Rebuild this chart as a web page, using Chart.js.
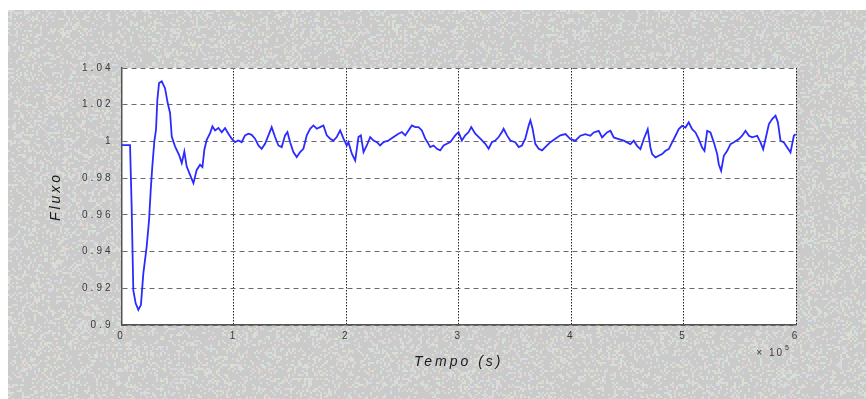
<!DOCTYPE html>
<html>
<head>
<meta charset="utf-8">
<script src="https://cdn.jsdelivr.net/npm/chart.js@4.4.1/dist/chart.umd.min.js"></script>
<style>
  html, body { margin: 0; padding: 0; background: #ffffff; }
  #wrap { position: absolute; left: 8px; top: 10px; width: 858px; height: 389px; }
</style>
</head>
<body>
<div id="wrap"><canvas id="fluxChart" width="858" height="389"></canvas></div>
<script>
// Tempo (x 10^5 s) e fluxo normalizado
var tempo = [
    0, 0.076, 0.090, 0.105, 0.126, 0.150, 0.173, 0.194, 0.224, 0.245,
    0.260, 0.274, 0.292, 0.307, 0.319, 0.334, 0.358, 0.387, 0.411, 0.432,
    0.447, 0.476, 0.512, 0.536, 0.559, 0.580, 0.610, 0.640, 0.669, 0.699,
    0.720, 0.737, 0.758, 0.788, 0.809, 0.832, 0.862, 0.892, 0.921, 0.951,
    0.980, 1.010, 1.040, 1.069, 1.099, 1.129, 1.158, 1.188, 1.218, 1.247,
    1.277, 1.307, 1.336, 1.366, 1.396, 1.425, 1.455, 1.476, 1.500, 1.529,
    1.559, 1.589, 1.618, 1.648, 1.678, 1.707, 1.737, 1.767, 1.796, 1.826,
    1.856, 1.885, 1.915, 1.945, 1.975, 2.004, 2.019, 2.049, 2.079, 2.108,
    2.129, 2.153, 2.182, 2.212, 2.242, 2.271, 2.301, 2.331, 2.375, 2.420,
    2.464, 2.494, 2.524, 2.553, 2.583, 2.613, 2.642, 2.672, 2.702, 2.722,
    2.746, 2.776, 2.806, 2.835, 2.865, 2.895, 2.924, 2.969, 2.998, 3.028,
    3.058, 3.088, 3.111, 3.147, 3.192, 3.236, 3.266, 3.295, 3.325, 3.355,
    3.384, 3.399, 3.429, 3.459, 3.503, 3.533, 3.562, 3.592, 3.622, 3.637,
    3.657, 3.681, 3.711, 3.741, 3.770, 3.815, 3.859, 3.904, 3.949, 3.993,
    4.038, 4.082, 4.127, 4.171, 4.201, 4.245, 4.275, 4.319, 4.349, 4.379,
    4.423, 4.468, 4.497, 4.527, 4.557, 4.586, 4.616, 4.646, 4.681, 4.705,
    4.720, 4.750, 4.779, 4.809, 4.839, 4.868, 4.898, 4.928, 4.957, 4.987,
    5.017, 5.046, 5.076, 5.106, 5.135, 5.165, 5.186, 5.210, 5.239, 5.269,
    5.299, 5.313, 5.334, 5.358, 5.388, 5.417, 5.447, 5.492, 5.521, 5.551,
    5.581, 5.610, 5.655, 5.684, 5.708, 5.729, 5.759, 5.788, 5.818, 5.839,
    5.862, 5.892, 5.922, 5.951, 5.981, 5.996
];
var fluxo = [
    0.998, 0.998, 0.9654, 0.919, 0.9118, 0.9082, 0.911, 0.928, 0.9427, 0.957,
    0.9736, 0.9863, 1.0, 1.0064, 1.0227, 1.0318, 1.0327, 1.029, 1.0209, 1.0155,
    1.0027, 0.9973, 0.9927, 0.9882, 0.9945, 0.9863, 0.9818, 0.9773, 0.9845, 0.9873,
    0.986, 0.9955, 1.0009, 1.0045, 1.0082, 1.006, 1.0073, 1.005, 1.0073, 1.0042,
    1.0015, 0.9996, 1.0005, 0.9996, 1.0033, 1.0042, 1.0036, 1.0015, 0.9978, 0.996,
    0.9987, 1.0033, 1.0078, 1.0024, 0.9978, 0.9969, 1.0033, 1.0051, 0.9996, 0.9942,
    0.9915, 0.9942, 0.996, 1.0033, 1.0069, 1.0087, 1.0069, 1.0078, 1.0087, 1.0033,
    1.0015, 1.0005, 1.0024, 1.006, 1.0015, 0.9978, 0.9996, 0.9933, 0.9896, 1.0024,
    1.0033, 0.9942, 0.9978, 1.0024, 1.0005, 0.9996, 0.9978, 0.9996, 1.0005, 1.0024,
    1.0042, 1.0051, 1.0033, 1.006, 1.0087, 1.0078, 1.0078, 1.006, 1.0015, 0.9996,
    0.9969, 0.9978, 0.996, 0.9951, 0.9978, 0.9987, 0.9996, 1.0033, 1.0051, 1.0005,
    1.0033, 1.0051, 1.0078, 1.0042, 1.0015, 0.9987, 0.996, 0.9996, 1.0005, 1.0024,
    1.0051, 1.0069, 1.0033, 1.0005, 0.9996, 0.9969, 0.9978, 1.0015, 1.0087, 1.0115,
    1.0069, 0.9987, 0.996, 0.9951, 0.9969, 0.9996, 1.0015, 1.0033, 1.004, 1.0013,
    1.0004, 1.0031, 1.004, 1.0031, 1.0049, 1.0058, 1.0022, 1.0049, 1.0058, 1.0022,
    1.0013, 1.0004, 0.9995, 0.9985, 1.0004, 0.9976, 0.9958, 1.0013, 1.0067, 0.9967,
    0.9931, 0.9913, 0.9922, 0.9931, 0.9949, 0.9958, 0.9995, 1.0031, 1.0067, 1.0085,
    1.0076, 1.0104, 1.0067, 1.0049, 1.0013, 0.9967, 0.9949, 1.0058, 1.0049, 0.9995,
    0.9931, 0.9876, 0.984, 0.9922, 0.9949, 0.9985, 0.9995, 1.0013, 1.0031, 1.0058,
    1.0031, 1.0022, 1.0031, 0.9995, 0.9958, 1.0013, 1.0095, 1.0122, 1.014, 1.0104,
    1.0004, 0.9995, 0.9967, 0.994, 1.0031, 1.004
];

var xTicks = [0, 1, 2, 3, 4, 5, 6];
var yTicks = [0.9, 0.92, 0.94, 0.96, 0.98, 1, 1.02, 1.04];
var yLabels = ['0.9', '0.92', '0.94', '0.96', '0.98', '1', '1.02', '1.04'];
var xExponent = '5';

var points = tempo.map(function(t, i) {
    return { x: t, y: fluxo[i] };
});

// light grey dithered figure background, built once
var bgTexture = (function() {
    var c = document.createElement('canvas');
    c.width = 858;
    c.height = 389;
    var g = c.getContext('2d');
    g.fillStyle = '#cacaca';
    g.fillRect(0, 0, c.width, c.height);
    var tints = ['#d6e2d2', '#e2d4da', '#d4d9e4', '#dedecf', '#d2e2da', '#dcd3cc', '#d8d8d8'];
    function hash(x, y) {
        var h = Math.imul(x, 374761393) ^ Math.imul(y, 668265263);
        h = Math.imul(h ^ (h >>> 13), 1274126177);
        return ((h ^ (h >>> 16)) >>> 0) / 4294967296;
    }
    for (var y = 0; y < c.height; y += 2) {
        for (var x = 0; x < c.width; x += 2) {
            var r = hash(x, y);
            if (r < 0.3) {
                g.fillStyle = tints[Math.floor(r * 23.3) % tints.length];
                g.fillRect(x, y, 2, 2);
            }
        }
    }
    return c;
})();

var figurePlugin = {
    id: 'figure',
    beforeLayout: function(chart) {
        chart.ctx.letterSpacing = '3px';
    },
    beforeDraw: function(chart) {
        var ctx = chart.ctx;
        var a = chart.chartArea;
        ctx.drawImage(bgTexture, 0, 0);
        ctx.fillStyle = '#ffffff';
        ctx.fillRect(a.left, a.top, a.right - a.left, a.bottom - a.top);
        ctx.letterSpacing = '3px';
    },
    afterDraw: function(chart) {
        var ctx = chart.ctx;
        var a = chart.chartArea;
        ctx.save();
        ctx.letterSpacing = '2px';
        ctx.fillStyle = '#3a3a3a';
        ctx.textBaseline = 'middle';
        ctx.textAlign = 'right';
        ctx.font = '10px "Liberation Sans", Arial, sans-serif';
        ctx.fillText('\u00d7 10', a.right - 12, a.bottom + 28);
        ctx.textAlign = 'left';
        ctx.font = '7px "Liberation Sans", Arial, sans-serif';
        ctx.fillText(xExponent, a.right - 11, a.bottom + 23);
        ctx.restore();
    }
};

new Chart(document.getElementById('fluxChart'), {
    type: 'line',
    data: {
        datasets: [{
            data: points,
            borderColor: '#2b2bff',
            borderWidth: 1.8,
            pointRadius: 0,
            tension: 0,
            fill: false
        }]
    },
    plugins: [figurePlugin],
    options: {
        responsive: false,
        animation: false,
        layout: { padding: { left: 40, right: 70, top: 58, bottom: 26 } },
        plugins: {
            legend: { display: false },
            tooltip: { enabled: false }
        },
        scales: {
            x: {
                type: 'linear',
                min: 0,
                max: 6,
                afterBuildTicks: function(scale) {
                    scale.ticks = xTicks.map(function(v) { return { value: v }; });
                },
                afterFit: function(scale) { scale.height = 48; },
                ticks: {
                    padding: 5,
                    color: '#3a3a3a',
                    font: { family: '"Liberation Sans", Arial, sans-serif', size: 10 },
                    maxRotation: 0,
                    callback: function(v) { return String(v); }
                },
                grid: { color: '#1e1e1e', lineWidth: 1, drawTicks: false },
                border: { display: true, color: '#555555', width: 1.5, dash: [1.5, 1.5] },
                title: {
                    display: true,
                    text: 'Tempo (s)',
                    color: '#1a1a1a',
                    font: { family: '"Liberation Sans", Arial, sans-serif', size: 14, style: 'italic' },
                    padding: { top: 0, bottom: 2 }
                }
            },
            y: {
                min: 0.9,
                max: 1.04,
                afterBuildTicks: function(scale) {
                    scale.ticks = yTicks.map(function(v) { return { value: v }; });
                },
                afterFit: function(scale) { scale.width = 73.5; },
                ticks: {
                    padding: 8,
                    color: '#3a3a3a',
                    font: { family: '"Liberation Sans", Arial, sans-serif', size: 10 },
                    callback: function(v, i) { return yLabels[i]; }
                },
                grid: { color: '#6a6a6a', lineWidth: 1, drawTicks: false },
                border: { display: true, color: '#555555', width: 1.5, dash: [5, 4] },
                title: {
                    display: true,
                    text: 'Fluxo',
                    color: '#1a1a1a',
                    font: { family: '"Liberation Sans", Arial, sans-serif', size: 14, style: 'italic' },
                    padding: { top: 0, bottom: 0 }
                }
            }
        }
    }
});
</script>
</body>
</html>
